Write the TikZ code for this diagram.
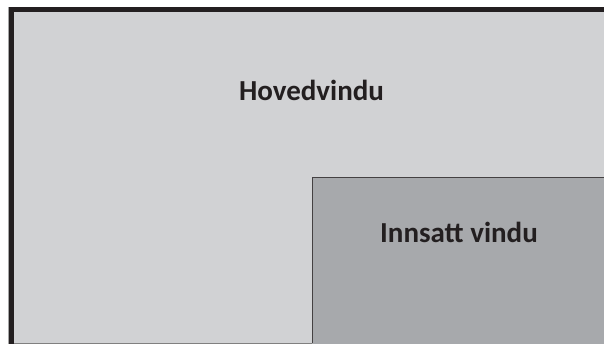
\documentclass[tikz,border=0pt]{standalone}
\usepackage{fontspec}
\setmainfont{Carlito}
\definecolor{hovedgraa}{HTML}{D1D2D4}
\definecolor{innsattgraa}{HTML}{A7A9AC}
\definecolor{kantsvart}{HTML}{231F20}

\begin{document}
\begin{tikzpicture}[x=1pt,y=-1pt,
        vindutekst/.style={anchor=base,text=kantsvart,font=\fontsize{29}{34}\selectfont\bfseries}]
        \useasboundingbox (0,0) rectangle (604,344);
        % Hovedvindu: flate og tykk kant oppe og til venstre
        \fill[hovedgraa] (9,7) rectangle (604,344);
        \draw[gray!70,line width=1pt] (8.5,7) -- (8.5,344);
        \fill[kantsvart] (9,7) rectangle (14,344);
        \fill[kantsvart] (9,7) rectangle (604,12);
        \draw[gray,line width=1pt] (14,343.5) -- (604,343.5);
        % Innsatt vindu nede til hoyre
        \fill[innsattgraa] (312,177) rectangle (604,344);
        \draw[kantsvart!85,line width=1.5pt] (312.5,343) -- (312.5,177.5) -- (604,177.5);
        \node[vindutekst] (hoved) at (311.5,101) {Hovedvindu};
        \node[vindutekst] (innsatt) at (459,243) {Innsatt vindu};
    \end{tikzpicture}
\end{document}
